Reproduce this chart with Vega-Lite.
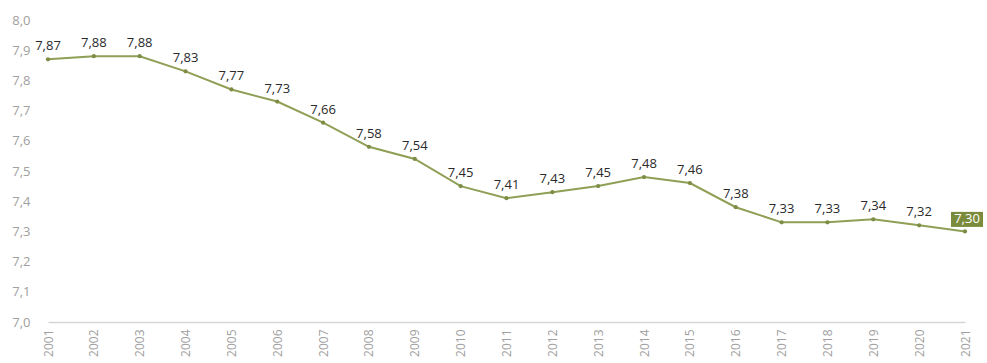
{
  "$schema": "https://vega.github.io/schema/vega-lite/v6.json",
  "width": 917,
  "height": 302,
  "autosize": {"type": "none"},
  "padding": {"left": 48, "top": 20, "right": 22, "bottom": 41},
  "background": "white",
  "config": {
    "view": {"stroke": null},
    "locale": {"number": {"decimal": ",", "thousands": ".", "grouping": [3], "currency": ["", " €"]}},
    "font": "Open Sans"
  },
  "data": {"values": [
    {"year": "2001", "value": 7.87},
    {"year": "2002", "value": 7.88},
    {"year": "2003", "value": 7.88},
    {"year": "2004", "value": 7.83},
    {"year": "2005", "value": 7.77},
    {"year": "2006", "value": 7.73},
    {"year": "2007", "value": 7.66},
    {"year": "2008", "value": 7.58},
    {"year": "2009", "value": 7.54},
    {"year": "2010", "value": 7.45},
    {"year": "2011", "value": 7.41},
    {"year": "2012", "value": 7.43},
    {"year": "2013", "value": 7.45},
    {"year": "2014", "value": 7.48},
    {"year": "2015", "value": 7.46},
    {"year": "2016", "value": 7.38},
    {"year": "2017", "value": 7.33},
    {"year": "2018", "value": 7.33},
    {"year": "2019", "value": 7.34},
    {"year": "2020", "value": 7.32},
    {"year": "2021", "value": 7.30}
  ]},
  "encoding": {
    "x": {
      "field": "year", "type": "ordinal",
      "scale": {"type": "point", "padding": 0},
      "axis": {
        "title": null, "labelAngle": -90, "labelColor": "#a0a0a0", "labelFontSize": 12,
        "labelPadding": 7, "ticks": false, "domain": true, "domainColor": "#d6d6d6", "domainWidth": 1.5,
        "grid": false, "labelFont": "Open Sans"
      }
    },
    "y": {
      "field": "value", "type": "quantitative",
      "scale": {"domain": [7.0, 8.0], "zero": false, "nice": false},
      "axis": {
        "title": null, "format": ".1f", "values": [7.0, 7.1, 7.2, 7.3, 7.4, 7.5, 7.6, 7.7, 7.8, 7.9, 8.0],
        "domain": false, "ticks": false, "grid": false, "labelColor": "#a0a0a0", "labelFontSize": 13,
        "labelPadding": 18, "labelFont": "Open Sans"
      }
    }
  },
  "layer": [
    {"mark": {"type": "line", "color": "#8f9f55", "strokeWidth": 2}},
    {"mark": {"type": "point", "filled": true, "color": "#7d8d45", "size": 18, "opacity": 1}},
    {
      "transform": [{"filter": "datum.year != '2021'"}],
      "mark": {"type": "text", "dy": -13, "fontSize": 13, "color": "#2a2a2a", "baseline": "middle"},
      "encoding": {"text": {"field": "value", "type": "quantitative", "format": ".2f"}}
    },
    {
      "transform": [{"filter": "datum.year == '2021'"}],
      "mark": {"type": "point", "filled": true, "shape": "M-1,-0.47L1,-0.47L1,0.47L-1,0.47Z", "size": 1024, "color": "#7a8c3c", "opacity": 1, "yOffset": -12, "xOffset": 2},
      "encoding": {}
    },
    {
      "transform": [{"filter": "datum.year == '2021'"}],
      "mark": {"type": "text", "dy": -12, "dx": 2, "fontSize": 13, "color": "white", "baseline": "middle"},
      "encoding": {"text": {"field": "value", "type": "quantitative", "format": ".2f"}}
    }
  ]
}
